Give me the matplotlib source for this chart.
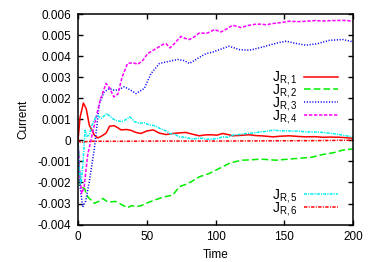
import matplotlib
matplotlib.use("Agg")
import matplotlib.pyplot as plt

plt.rcParams['font.family'] = ['Liberation Sans', 'DejaVu Sans']
plt.rcParams['mathtext.default'] = 'regular'
plt.rcParams['lines.scale_dashes'] = False

# (time, current)
t1 = [0, 1.5, 3.9, 6, 8.2, 11.9, 14.3, 17, 20.4, 23, 26.4, 29, 31.3, 35.4, 38.5, 42, 45.8,
      50, 54.8, 59, 64, 69, 74, 78.5, 83, 88.2, 92, 96.5, 101, 105.2, 109, 112.5, 118,
      124.6, 129, 133, 137, 141.6, 147, 153.7, 160, 165.8, 172, 178, 184, 190, 195, 200]
j1 = [0, 0.0011, 0.00178, 0.0015, 0.00073, 0.00025, 0.00012, 0.0002, 0.00035, 0.00068,
      0.0007, 0.0006, 0.0005, 0.00052, 0.00048, 0.00038, 0.00033, 0.00045, 0.0005,
      0.00035, 0.00028, 0.00033, 0.00036, 0.00038, 0.0003, 0.00022, 0.00026, 0.00027,
      0.00025, 0.00033, 0.00028, 0.00022, 0.00024, 0.00027, 0.00023, 0.00022, 0.0002,
      0.00017, 0.0002, 0.00022, 0.00019, 0.00017, 0.00018, 0.00015, 0.00016, 0.00015,
      0.00013, 0.0001]

t2 = [0, 1.5, 4.6, 7, 11.9, 15, 18, 21, 24, 27, 30, 33, 36, 39, 42, 46, 49.5, 55.5,
      62.8, 68.9, 73.7, 78, 82.2, 88.2, 95.5, 102.8, 110, 115, 119.8, 126, 133, 144,
      158.5, 170, 178, 186, 192.5, 200]
j2 = [0, -0.0022, -0.00228, -0.00268, -0.00299, -0.0029, -0.00276, -0.0029, -0.00292,
      -0.0029, -0.00299, -0.0031, -0.0032, -0.0031, -0.00315, -0.0031, -0.00299,
      -0.00284, -0.00268, -0.0026, -0.0022, -0.0021, -0.00197, -0.00173, -0.00157,
      -0.00133, -0.00109, -0.001, -0.00094, -0.00092, -0.00089, -0.00094, -0.00086,
      -0.0008, -0.00067, -0.00058, -0.00046, -0.0004]

t3 = [0, 1.5, 3.4, 5.5, 8.2, 11.9, 14.3, 15.5, 19, 22.8, 25.5, 28.8, 33.7, 38, 42.2,
      48.2, 53.1, 59.2, 64, 67.6, 72.5, 77, 81, 87, 93.1, 98, 102.8, 110, 117.3, 124.6,
      133, 140, 146, 151.3, 158, 165.8, 174, 182.8, 192.5, 200]
j3 = [0, -0.0022, -0.00316, -0.0029, -0.00197, -0.00038, 0.00105, 0.00176, 0.0023,
      0.00247, 0.0024, 0.00239, 0.00255, 0.0024, 0.00223, 0.00247, 0.00318, 0.00366,
      0.00373, 0.00378, 0.00385, 0.0038, 0.00366, 0.0039, 0.00413, 0.0042, 0.00432,
      0.00448, 0.00432, 0.00429, 0.00442, 0.00455, 0.00465, 0.00472, 0.00462, 0.00453,
      0.0046, 0.00476, 0.0048, 0.00469]

t4 = [0, 1.2, 2.7, 4.5, 7, 10, 13, 16, 20.4, 23, 26, 29, 32, 36, 40, 43.4, 47, 50.7,
      55, 61.6, 64, 66.9, 70, 74.9, 78, 81, 84, 88.2, 91, 94.3, 99.2, 104, 108, 112.5,
      118.5, 124.6, 129.5, 133, 137, 141.6, 147, 153.7, 160, 165.8, 172, 178, 185,
      192.5, 196, 200]
j4 = [0, -0.0016, -0.00252, -0.0022, -0.0007, 0.0002, 0.00105, 0.0019, 0.00271,
      0.0025, 0.00207, 0.0022, 0.003, 0.00366, 0.0037, 0.00362, 0.0038, 0.00413,
      0.0043, 0.00456, 0.0046, 0.0044, 0.0046, 0.00495, 0.00485, 0.0048, 0.0049,
      0.00511, 0.0051, 0.00511, 0.00527, 0.00516, 0.0053, 0.00548, 0.00537, 0.00548,
      0.00553, 0.00553, 0.0055, 0.00556, 0.0056, 0.00567, 0.00565, 0.00567, 0.0057,
      0.00568, 0.0057, 0.00571, 0.0057, 0.00565]

t5 = [0, 0.5, 2.2, 3.5, 5.1, 6.5, 8.2, 10, 13.6, 17, 20.9, 24, 27, 32, 35, 37.8, 41,
      45, 48, 52, 56, 59.6, 64, 66.9, 70, 73.7, 78, 83.4, 87, 90.7, 94, 98, 101.5, 105.2,
      109, 112.5, 117, 122, 127, 133, 137, 141.6, 147, 153.7, 160, 165.8, 172, 178, 184,
      190, 195, 200]
j5 = [0, -0.00117, -0.00204, -0.0012, 0.00049, 0.0002, 0.00025, 0.0007, 0.0012,
      0.00105, 0.00128, 0.0011, 0.00096, 0.00089, 0.001, 0.00112, 0.0009, 0.00081,
      0.00085, 0.00073, 0.0007, 0.00057, 0.00045, 0.00033, 0.0003, 0.00017, 0.00015,
      0.00006, 0.0001, 0.0001, 0.00005, 0.00006, 0.0001, 0.00017, 0.00015, 0.00025,
      0.00028, 0.00033, 0.00035, 0.00041, 0.00043, 0.00049, 0.00046, 0.00045, 0.00044,
      0.00041, 0.0004, 0.00038, 0.00034, 0.00028, 0.00022, 0.00017]

t6 = [0, 2, 5, 10, 30, 60, 100, 140, 170, 200]
j6 = [0, -0.0001, -0.00006, -0.00004, -0.00004, -0.00003, -0.00003, -0.00002,
      -0.00001, 0.00001]

labels = ['J$_{R,1}$', 'J$_{R,2}$', 'J$_{R,3}$', 'J$_{R,4}$', 'J$_{R,5}$', 'J$_{R,6}$']

fig = plt.figure(figsize=(3.74, 2.62), dpi=100)
ax = fig.add_axes([0.2086, 0.143, 0.7353, 0.8025])

lw = 1.1
l1, = ax.plot(t1, j1, color='#ff0000', lw=lw, linestyle='-')
l2, = ax.plot(t2, j2, color='#00ee00', lw=lw, linestyle=(0, (4.8, 2.2)))
l3, = ax.plot(t3, j3, color='#0000ff', lw=lw, linestyle=(0, (0.8, 1.2)))
l4, = ax.plot(t4, j4, color='#ff00ff', lw=lw, linestyle=(0, (2.4, 1.2)))
l5, = ax.plot(t5, j5, color='#00eeee', lw=lw, linestyle=(0, (2.2, 0.8, 0.8, 0.8)))
l6, = ax.plot(t6, j6, color='#ff0000', lw=lw, linestyle=(0, (2.4, 1.0, 0.7, 1.0)))

ax.set_xlim(0, 200)
ax.set_ylim(-0.004, 0.006)
ax.set_xticks([0, 50, 100, 150, 200])
ax.set_yticks([-0.004, -0.003, -0.002, -0.001, 0, 0.001, 0.002, 0.003, 0.004, 0.005, 0.006])
ax.set_yticklabels(['-0.004', '-0.003', '-0.002', '-0.001', '0', '0.001', '0.002',
                    '0.003', '0.004', '0.005', '0.006'])
ax.tick_params(direction='in', length=3.5, width=1, top=True, right=True,
               labelsize=8.5, pad=5)
for s in ax.spines.values():
    s.set_linewidth(1.1)

ax.set_xlabel('Time', fontsize=8.5, labelpad=4)
ax.set_ylabel('Current', fontsize=8.5, labelpad=6)

leg1 = ax.legend([l1, l2, l3, l4], labels[:4], loc='upper right',
                 bbox_to_anchor=(0.944, 0.738), frameon=False, markerfirst=False,
                 fontsize=10, handlelength=2.4, handletextpad=0.5,
                 labelspacing=-0.38, borderpad=0, borderaxespad=0)
ax.add_artist(leg1)
ax.legend([l5, l6], labels[4:], loc='upper right',
          bbox_to_anchor=(0.944, 0.178), frameon=False, markerfirst=False,
          fontsize=10, handlelength=2.4, handletextpad=0.5,
          labelspacing=-0.38, borderpad=0, borderaxespad=0)

fig.savefig('out.png', dpi=100)
